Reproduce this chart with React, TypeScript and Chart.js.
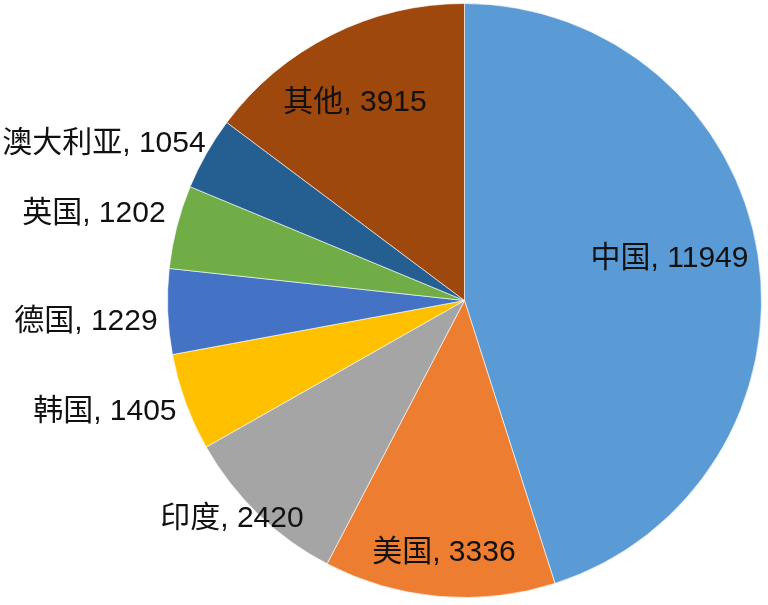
import React, { useEffect, useRef } from "react";
import { Chart, registerables } from "chart.js";

Chart.register(...registerables);

const categories = ["中国", "美国", "印度", "韩国", "德国", "英国", "澳大利亚", "其他"];
const values = [11949, 3336, 2420, 1405, 1229, 1202, 1054, 3915];
const colors = ["#5B9BD5", "#ED7D31", "#A5A5A5", "#FFC000", "#4472C4", "#70AD47", "#255E91", "#9E480E"];

// label placement: radius factor, angle offset (deg) from slice mid-angle, alignment
const labelLayout = [
  { r: 0.706, da: -3.2, align: "center" },
  { r: 0.845, da: -0.2, align: "center" },
  { r: 1.069, da: 3.1, align: "center" },
  { r: 1.036, da: -0.6, align: "right" },
  { r: 1.035, da: -1.3, align: "right" },
  { r: 1.05, da: 2.2, align: "right" },
  { r: 1.023, da: 1.9, align: "right" },
  { r: 0.768, da: -2.1, align: "center" },
];

const labelPlugin = {
  id: "sliceLabels",
  afterDatasetsDraw(chart: any) {
    const ctx = chart.ctx;
    const meta = chart.getDatasetMeta(0);
    ctx.save();
    ctx.font = '30px "Liberation Sans", "Noto Sans CJK SC", sans-serif';
    ctx.fillStyle = "#111";
    ctx.textBaseline = "alphabetic";
    meta.data.forEach((arc: any, i: number) => {
      const { x, y, startAngle, endAngle, outerRadius } = arc.getProps(
        ["x", "y", "startAngle", "endAngle", "outerRadius"],
        true
      );
      const lay = labelLayout[i];
      const a = (startAngle + endAngle) / 2 + (lay.da * Math.PI) / 180;
      const px = x + Math.cos(a) * outerRadius * lay.r;
      const py = y + Math.sin(a) * outerRadius * lay.r;
      ctx.textAlign = lay.align;
      ctx.fillText(`${categories[i]}, ${values[i]}`, px, py + 10.8);
    });
    ctx.restore();
  },
};

export default function App() {
  const ref = useRef<HTMLCanvasElement>(null);
  useEffect(() => {
    if (!ref.current) return;
    const chart = new Chart(ref.current, {
      type: "pie",
      data: {
        labels: categories,
        datasets: [
          {
            data: values,
            backgroundColor: colors,
            borderColor: "rgba(255,255,255,0.6)",
            borderWidth: 1,
          },
        ],
      },
      options: {
        responsive: false,
        animation: false,
        layout: { padding: { left: 167, right: 6, top: 3, bottom: 7 } },
        plugins: {
          legend: { display: false },
          tooltip: { enabled: false },
        },
      },
      plugins: [labelPlugin],
    });
    return () => chart.destroy();
  }, []);
  return (
    <div style={{ position: "fixed", left: 0, top: 0, width: 768, height: 605, background: "#fff" }}>
      <canvas ref={ref} width={768} height={605} style={{ display: "block" }} />
    </div>
  );
}
